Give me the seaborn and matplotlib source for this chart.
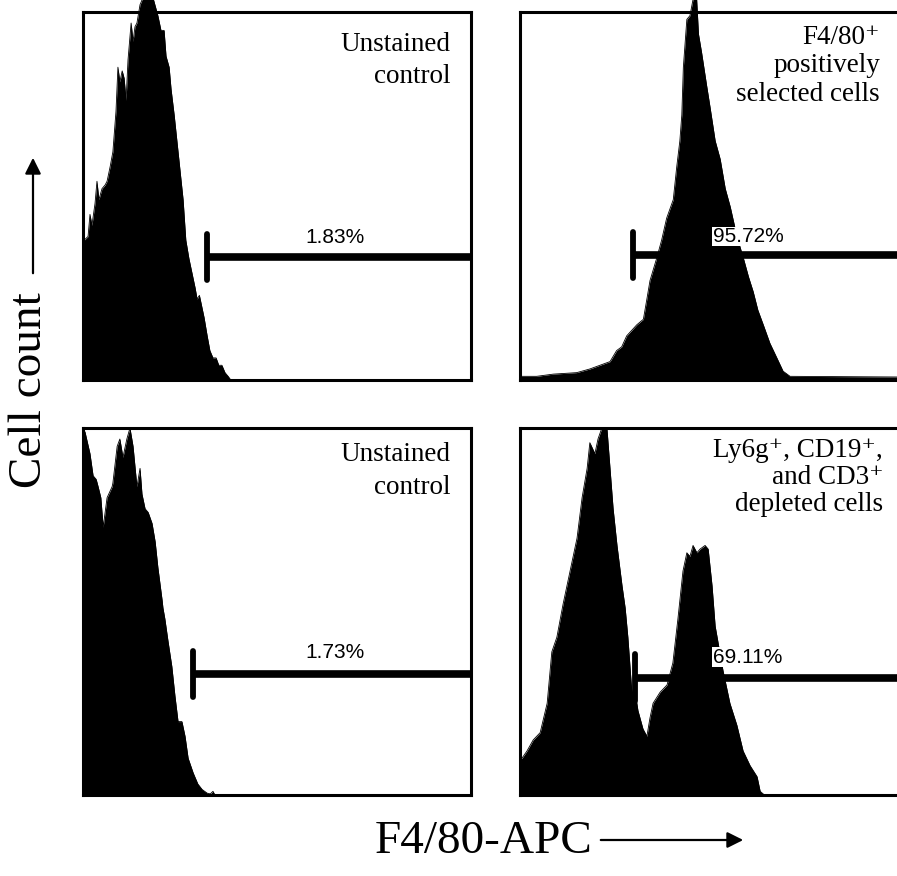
import matplotlib
matplotlib.use("Agg")
import matplotlib.pyplot as plt
import seaborn as sns
import pandas as pd

# ---------------- data (channel 0-1000, count as % of panel height) ----------------
tl_channel = [0, 3, 13, 18, 23, 31, 36, 41, 49, 57, 62, 70, 77, 85, 90, 95, 101, 106, 111, 116,
              124, 129, 134, 139, 147, 155, 162, 173, 180, 193, 201, 209, 214, 222, 227, 235, 242,
              250, 258, 265, 273, 281, 289, 294, 300, 304, 312, 320, 327, 335, 343, 350, 358, 366,
              374, 381, 1000]
tl_count = [38, 38, 39, 45, 42, 48, 54, 49, 52, 53, 54, 58, 62, 73, 85, 81, 84, 82, 76, 87,
            97, 92, 96, 97, 102, 104, 104, 104, 104, 99, 95, 95, 88, 85, 79, 72, 65,
            57, 49, 38, 33, 29, 25, 22, 23, 21, 17, 12, 8, 6, 6, 4, 4, 2,
            1, 0, 0]

tr_channel = [0, 43, 86, 146, 180, 206, 232, 249, 262, 275, 301, 318, 327, 335, 352, 365, 378, 395,
              404, 412, 417, 421, 430, 438, 447, 455, 460, 468, 481, 490, 503, 516, 529, 542, 559,
              576, 589, 601, 613, 627, 644, 662, 678, 696, 1000]
tr_count = [1, 1, 1.6, 2, 3, 4, 5, 8, 9, 12, 15, 16.5, 22, 27, 33, 38, 44, 49,
            58, 65, 72, 85, 98, 99, 104, 104, 94, 89, 80, 74, 65, 60, 52, 47, 39,
            33, 28, 24, 19, 15, 10, 6, 2.4, 1, 0.8]

bl_channel = [0, 5, 18, 26, 34, 39, 46, 52, 62, 75, 77, 88, 95, 103, 113, 121, 129, 139, 147, 152,
              160, 168, 178, 186, 193, 204, 206, 211, 219, 229, 237, 245, 255, 263, 271, 284, 296,
              307, 320, 328, 335, 340, 1000]
bl_count = [99, 99, 93, 87, 86, 84, 81, 73, 81, 84, 85, 95, 97, 92, 97, 100, 95, 84, 89, 82,
            78, 77, 74, 69, 62, 53, 51, 48, 42, 35, 27, 20, 20, 16, 10, 6, 3,
            1.5, 0.5, 0.3, 1, 0, 0]

br_channel = [0, 5, 18, 34, 52, 70, 82, 95, 111, 129, 147, 160, 173, 180, 193, 201, 211, 224, 232,
              240, 250, 263, 271, 278, 289, 294, 304, 317, 327, 335, 343, 361, 379, 394, 407, 420,
              430, 438, 446, 456, 464, 477, 485, 495, 503, 523, 541, 559, 575, 593, 611, 619, 630,
              1000]
br_count = [10, 10, 12, 15, 17, 25, 39, 43, 52, 61, 70, 81, 89, 96, 93, 97, 100, 100, 89,
            78, 68, 57, 51, 43, 27, 30, 23, 18, 16, 21, 25, 28, 30, 36, 48, 61,
            66, 65, 68, 66, 67, 68, 67, 57, 46, 34, 25, 19, 12, 8, 5, 1, 0,
            0]

gate_start = [320, 291, 283, 296]
gate_level = [33.5, 34, 33, 32]
pct_labels = ["1.83%", "95.72%", "1.73%", "69.11%"]
sample_labels = ["Unstained\ncontrol",
                 "F4/80\u207a\npositively\nselected cells",
                 "Unstained\ncontrol",
                 "Ly6g\u207a, CD19\u207a,\nand CD3\u207a\ndepleted cells"]
x_label = "F4/80-APC"
y_label = "Cell count"

# ---------------- style ----------------
sns.set_theme(style="white")
plt.rcParams["font.family"] = ["Liberation Serif", "DejaVu Serif"]

W, H = 897, 876
fig = plt.figure(figsize=(W / 100, H / 100), dpi=100)


def rect(x0, y0, x1, y1):
    return [x0 / W, 1 - y1 / H, (x1 - x0) / W, (y1 - y0) / H]


panels = [
    dict(ch=tl_channel, cnt=tl_count, r=rect(83, 12, 471, 380),
         pct_x=649, pct_y=37.3, pct_ha="center", pct_box=False,
         lab_x=0.946, lab_y=0.946, lab_ls=1.4),
    dict(ch=tr_channel, cnt=tr_count, r=rect(520, 12, 908, 380),
         pct_x=497, pct_y=37.5, pct_ha="left", pct_box=True,
         lab_x=0.928, lab_y=0.965, lab_ls=1.18),
    dict(ch=bl_channel, cnt=bl_count, r=rect(83, 428, 471, 795),
         pct_x=649, pct_y=37.3, pct_ha="center", pct_box=False,
         lab_x=0.946, lab_y=0.962, lab_ls=1.4),
    dict(ch=br_channel, cnt=br_count, r=rect(520, 428, 908, 795),
         pct_x=497, pct_y=36, pct_ha="left", pct_box=True,
         lab_x=0.936, lab_y=0.973, lab_ls=1.12),
]

for i, p in enumerate(panels):
    ax = fig.add_axes(p["r"])
    df = pd.DataFrame({"channel": p["ch"], "count": p["cnt"]})
    sns.lineplot(data=df, x="channel", y="count", color="black", linewidth=0.6,
                 ax=ax, clip_on=False)
    ax.fill_between(df["channel"], df["count"], 0, color="black", linewidth=0,
                    clip_on=False)
    ax.set_xlim(0, 1000)
    ax.set_ylim(0, 100)
    ax.set_xticks([])
    ax.set_yticks([])
    ax.set_xlabel("")
    ax.set_ylabel("")
    ax.set_facecolor("white")
    for s in ax.spines.values():
        s.set_visible(True)
        s.set_color("black")
        s.set_linewidth(2.2)

    g, lvl = gate_start[i], gate_level[i]
    ax.plot([g, 1000], [lvl, lvl], color="black", linewidth=5.5,
            solid_capstyle="butt", zorder=3)
    ax.plot([g, g], [lvl - 6.3, lvl + 6.3], color="black", linewidth=4.2,
            solid_capstyle="round", zorder=3)

    bbox = dict(facecolor="white", edgecolor="none", pad=0.3) if p["pct_box"] else None
    ax.text(p["pct_x"], p["pct_y"], pct_labels[i], ha=p["pct_ha"], va="baseline",
            fontsize=15, family=["Liberation Sans", "DejaVu Sans"], color="black",
            bbox=bbox, zorder=5)

    ax.text(p["lab_x"], p["lab_y"], sample_labels[i], transform=ax.transAxes,
            ha="right", va="top", multialignment="right", fontsize=19.5,
            linespacing=p["lab_ls"], color="black", zorder=5)

# axis labels with arrows
fig.text(375 / W, 1 - 853 / H, x_label, ha="left", va="baseline", fontsize=34,
         color="black")
fig.add_artist(matplotlib.patches.FancyArrowPatch(
    (598 / W, 1 - 840 / H), (746 / W, 1 - 840 / H), transform=fig.transFigure,
    arrowstyle="-|>", mutation_scale=24, linewidth=1.6, color="black"))

fig.text(30 / W, 1 - 390 / H, y_label, ha="center", va="center", rotation=90,
         fontsize=34, color="black")
fig.add_artist(matplotlib.patches.FancyArrowPatch(
    (33 / W, 1 - 276 / H), (33 / W, 1 - 155 / H), transform=fig.transFigure,
    arrowstyle="-|>", mutation_scale=24, linewidth=1.6, color="black"))

fig.savefig("out.png", dpi=100, facecolor="white")
